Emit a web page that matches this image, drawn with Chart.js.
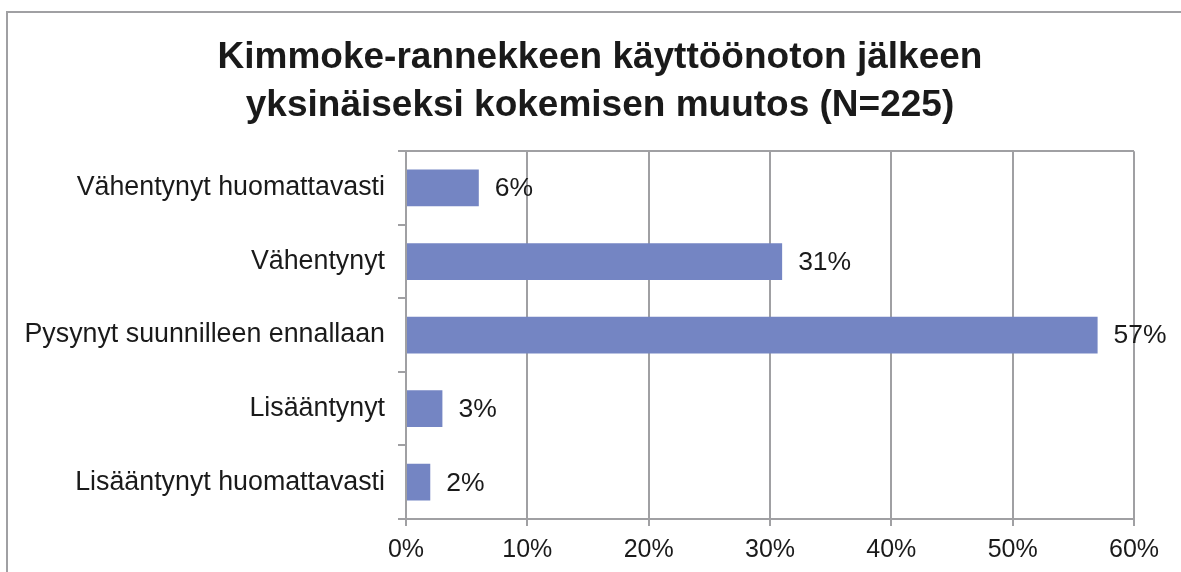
<!DOCTYPE html>
<html>
<head>
<meta charset="utf-8">
<script src="https://cdn.jsdelivr.net/npm/chart.js@4/dist/chart.umd.min.js"></script>
<style>
  html, body { margin: 0; padding: 0; background: #fff; overflow: hidden; }
  #frame { position: absolute; left: 6px; top: 11px; width: 1400px; height: 800px;
           border-left: 2px solid #a0a0a3; border-top: 2px solid #a0a0a3; }
  #chartDiv { position: absolute; left: 0; top: 0; width: 1181px; height: 572px; }
</style>
</head>
<body>
<div id="frame"></div>
<div id="chartDiv"><canvas id="barChart"></canvas></div>
<script>
var categories = ["Vähentynyt huomattavasti", "Vähentynyt", "Pysynyt suunnilleen ennallaan", "Lisääntynyt", "Lisääntynyt huomattavasti"];
var percents = [6, 31, 57, 3, 2];
var xTicks = [0, 10, 20, 30, 40, 50, 60];

var fontFamily = "'Liberation Sans', Arial, sans-serif";
var gridGray = '#a0a0a3';
var textColor = '#1a1a1a';

// percent label right of each bar
var valueLabels = {
    id: 'valueLabels',
    afterDatasetsDraw: function(chart) {
        var ctx = chart.ctx;
        var meta = chart.getDatasetMeta(0);
        ctx.save();
        ctx.font = '26.5px ' + fontFamily;
        ctx.fillStyle = textColor;
        ctx.textAlign = 'left';
        ctx.textBaseline = 'middle';
        meta.data.forEach(function(bar, i) {
            ctx.fillText(percents[i] + '%', bar.x + 16, bar.y + 1);
        });
        ctx.restore();
    }
};

// title in the original is centred a bit right of the canvas middle
var titleShift = {
    id: 'titleShift',
    afterLayout: function(chart) {
        if (chart.titleBlock) chart.titleBlock.left = 66;
    }
};

var data = {
    labels: categories,
    datasets: [{
        data: percents,
        backgroundColor: '#7485c3',
        borderWidth: 0,
        barPercentage: 0.5,
        categoryPercentage: 1.0
    }]
};

var options = {
    indexAxis: 'y',
    responsive: false,
    animation: false,
    layout: { padding: { left: 0, right: 47, top: 0, bottom: 0 } },
    plugins: {
        legend: { display: false },
        tooltip: { enabled: false },
        title: {
            display: true,
            text: ["Kimmoke-rannekkeen käyttöönoton jälkeen", "yksinäiseksi kokemisen muutos (N=225)"],
            color: textColor,
            font: { family: fontFamily, size: 37, weight: 'bold', lineHeight: 1.3 },
            padding: { top: 34, bottom: 21 }
        }
    },
    scales: {
        x: {
            min: 0,
            max: 60,
            afterBuildTicks: function(scale) {
                scale.ticks = xTicks.map(function(v) { return { value: v }; });
            },
            afterFit: function(scale) { scale.height = 53; },
            ticks: {
                color: textColor,
                font: { family: fontFamily, size: 25 },
                padding: 9,
                callback: function(v) { return v + '%'; }
            },
            grid: { color: gridGray, lineWidth: 2, tickLength: 7, tickColor: gridGray },
            border: { color: gridGray, width: 2 }
        },
        y: {
            afterFit: function(scale) { scale.width = 406; },
            ticks: {
                color: textColor,
                font: { family: fontFamily, size: 26.8 },
                padding: 13
            },
            grid: {
                offset: true,
                lineWidth: 2,
                tickLength: 8,
                tickColor: gridGray,
                color: function(c) { return c.index === 0 ? gridGray : 'rgba(0,0,0,0)'; }
            },
            border: { color: gridGray, width: 2 }
        }
    }
};

var canvas = document.getElementById('barChart');
canvas.width = 1181;
canvas.height = 572;
var myBarChart = new Chart(canvas, {
    type: 'bar',
    data: data,
    options: options,
    plugins: [valueLabels, titleShift]
});
</script>
</body>
</html>
